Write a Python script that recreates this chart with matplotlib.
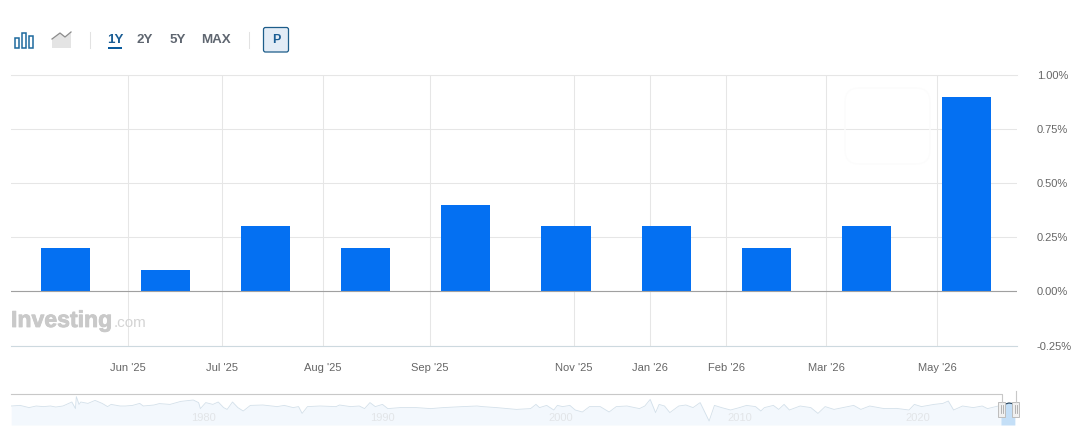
import matplotlib
matplotlib.use("Agg")
import matplotlib.pyplot as plt
import matplotlib.patheffects as pe
from matplotlib.patches import Rectangle, FancyBboxPatch

plt.rcParams['font.family'] = ['Liberation Sans', 'DejaVu Sans']

W, H = 1085, 448

# bars, one per release
bar_values = [0.2, 0.1, 0.3, 0.2, 0.4, 0.3, 0.3, 0.2, 0.3, 0.9]
bar_index = list(range(len(bar_values)))

# month ticks sit between the bars, in bar index units
month_pos = [0.62, 1.56, 2.57, 3.64, 5.08, 5.84, 6.60, 7.60, 8.71]
month_labels = ["Jun '25", "Jul '25", "Aug '25", "Sep '25", "Nov '25",
                "Jan '26", "Feb '26", "Mar '26", "May '26"]
y_ticks = [-0.25, 0, 0.25, 0.5, 0.75, 1.0]

# navigator series
nav_years = [1969.2, 1969.7, 1970.2, 1970.6, 1971.0, 1971.4, 1971.7, 1972.1, 1972.4, 1972.6,
             1972.8, 1972.85, 1973.0, 1973.1, 1973.5, 1973.9, 1974.3, 1974.6, 1974.8, 1975.3,
             1975.6, 1976.0, 1976.4, 1976.6, 1977.2, 1977.5, 1978.1, 1978.7, 1979.4, 1979.7,
             1979.8, 1980.1, 1980.5, 1980.8, 1981.1, 1981.3, 1981.6, 1981.9, 1982.2, 1982.6,
             1983.3, 1984.1, 1984.5, 1985.0, 1985.3, 1985.5, 1985.8, 1986.5, 1987.4, 1987.6,
             1988.2, 1988.7, 1989.0, 1989.3, 1989.6, 1990.0, 1990.3, 1991.0, 1991.9, 1992.7,
             1993.4, 1994.5, 1995.3, 1995.6, 1996.4, 1997.5, 1998.3, 1998.6, 1998.8, 1999.2,
             1999.6, 1999.8, 2000.1, 2000.5, 2000.8, 2001.2, 2001.6, 2002.2, 2002.7, 2003.1,
             2003.7, 2004.4, 2004.7, 2005.0, 2005.3, 2005.5, 2005.8, 2006.1, 2006.6, 2007.0,
             2007.4, 2007.8, 2008.3, 2008.6, 2009.0, 2009.5, 2010.0, 2010.4, 2010.9, 2011.2,
             2011.4, 2011.9, 2012.2, 2012.5, 2012.8, 2013.4, 2014.0, 2014.4, 2014.8, 2015.3,
             2015.8, 2016.4, 2016.8, 2017.3, 2018.1, 2018.8, 2019.5, 2019.8, 2020.2, 2020.9,
             2021.4, 2021.7, 2022.0, 2022.5, 2023.1, 2023.6, 2023.9, 2024.5, 2024.65]
nav_values = [.40, .43, .32, .40, .37, .40, .35, .40, .52, .60,
              .27, .87, .48, .60, .53, .68, .53, .37, .48, .40,
              .40, .43, .53, .40, .45, .52, .48, .63, .70, .57,
              .27, .57, .48, .60, .32, .23, .60, .32, .15, .43,
              .45, .37, .43, .32, .37, .03, .37, .40, .37, .45,
              .37, .40, .27, .57, .37, .48, .27, .32, .32, .27,
              .32, .37, .40, .37, .32, .23, .27, .48, .32, .43,
              .20, .43, .37, .43, .20, .10, .37, .37, .10, .37,
              .40, .27, .40, .73, .07, .48, .40, .07, .40, .45,
              .32, .57, -.35, .43, .32, .20, .32, .43, .37, .15,
              .32, .43, .23, .48, .20, .40, .32, .03, .37, .23,
              .32, .43, .23, .40, .27, .28, .20, .48, .37, .48,
              .53, .65, .20, .40, .32, .40, .27, .40, .40]
sel_years = [2024.65, 2024.9, 2025.1, 2025.43]
sel_values = [.40, .50, .55, .50]
nav_label_years = [1980, 1990, 2000, 2010, 2020]

range_labels = ["1Y", "2Y", "5Y", "MAX"]
range_x = [115, 145, 177.5, 215.5]


def px_axes(left, top, right, bottom):
    return fig.add_axes([left / W, 1 - bottom / H, (right - left) / W, (bottom - top) / H])


fig = plt.figure(figsize=(W / 100, H / 100), dpi=100, facecolor='white')

# main chart
ax = px_axes(11, 75, 1017, 345.5)
ax.set_xlim(-0.544, 9.505)
ax.set_ylim(-0.25, 1.0)
ax.bar(bar_index, bar_values, width=0.49, color='#0470f2', zorder=3)
ax.axhline(0, color='#a0a0a0', lw=0.8, zorder=4)
ax.set_yticks(y_ticks, [f'{v:.2f}%' for v in y_ticks])
ax.yaxis.tick_right()
ax.set_xticks(month_pos, month_labels)
ax.grid(True, color='#e6e6e6', lw=0.75, zorder=0)
ax.set_axisbelow(True)
ax.tick_params(axis='both', length=0, labelsize=8, labelcolor='#666666')
ax.tick_params(axis='x', pad=12.5)
ax.tick_params(axis='y', pad=14.2)
for s in ['left', 'right']:
    ax.spines[s].set_visible(False)
ax.spines['top'].set_color('#e6e6e6')
ax.spines['top'].set_linewidth(0.75)
ax.spines['bottom'].set_color('#cdd9df')
ax.spines['bottom'].set_linewidth(0.8)

# navigator strip
nav = px_axes(11, 394, 1017, 425)
nav.set_xlim(1969.19, 2025.55)
nav.set_ylim(-0.55, 1.0)
nav.fill_between(nav_years, nav_values, -0.55, color='#f3f8fd', lw=0)
nav.plot(nav_years, nav_values, color='#d3e0ea', lw=0.6)
nav.fill_between(sel_years, sel_values, -0.55, color='#c4dff7', lw=0)
nav.plot(sel_years, sel_values, color='#2c4a63', lw=0.9)
for y in nav_label_years:
    nav.text(y, -0.2, str(y), ha='center', va='center', fontsize=8, color='#e2e5e8')
nav.axis('off')

# toolbar, watermark and handles are drawn in pixel coordinates
ui = fig.add_axes([0, 0, 1, 1], facecolor='none')
ui.set_xlim(0, W)
ui.set_ylim(H, 0)
ui.axis('off')

for x0, top in [(14.5, 38.5), (21.5, 33.5), (28.5, 36)]:
    ui.add_patch(Rectangle((x0, top), 4.5, 48 - top, fc='none', ec='#1e6a9e', lw=1.1))
ui.fill([52, 52, 60, 65, 71, 71], [48, 39, 33, 37, 32, 48], color='#e4e4e4', lw=0)
ui.plot([52, 60, 65, 71], [39, 33, 37, 32], color='#8c8c8c', lw=0.9)

ui.plot([89.5, 89.5], [32, 48], color='#e2e2e2', lw=0.75)
ui.plot([248.5, 248.5], [32, 48], color='#e2e2e2', lw=0.75)
for label, x in zip(range_labels, range_x):
    col = '#1a5d94' if label == '1Y' else '#5f6670'
    ui.text(x, 40.3, label, ha='center', va='center', fontsize=9.6, fontweight='bold', color=col)
ui.add_patch(Rectangle((108, 47.5), 14, 2, fc='#0a5a9c', lw=0))
ui.add_patch(FancyBboxPatch((263.5, 27.5), 25, 24.5, boxstyle='round,pad=0,rounding_size=2',
                            fc='#e3ecf6', ec='#1d5d8a', lw=0.9))
ui.text(276, 40, 'P', ha='center', va='center', fontsize=9, fontweight='bold', color='#1a5d94')

ui.text(11, 327, 'Investing', ha='left', va='baseline', fontsize=16.6, fontweight='bold', color='#c9c9c9',
        path_effects=[pe.withStroke(linewidth=0.6, foreground='#c9c9c9')])
ui.text(113.5, 327, '.com', ha='left', va='baseline', fontsize=11, color='#d4d4d4')

# faint logo shape behind the last bar
ui.add_patch(FancyBboxPatch((845, 88), 85, 76, boxstyle='round,pad=0,rounding_size=14',
                            fc='none', ec='#fcfcfc', lw=1.0))

# navigator frame and handles
ui.plot([11, 1001.5, 1001.5], [394.5, 394.5, 402], color='#c8c8c8', lw=0.8)
ui.plot([1015.5, 1015.5], [391, 402], color='#c8c8c8', lw=0.8)
for x0 in [998, 1012]:
    ui.add_patch(Rectangle((x0, 402), 7, 15, fc='#f0f0f0', ec='#bdbdbd', lw=0.7))
    ui.plot([x0 + 2.5, x0 + 2.5], [405.5, 413.5], color='#a8a8a8', lw=0.6)
    ui.plot([x0 + 4.5, x0 + 4.5], [405.5, 413.5], color='#a8a8a8', lw=0.6)

fig.savefig('out.png', dpi=100)
